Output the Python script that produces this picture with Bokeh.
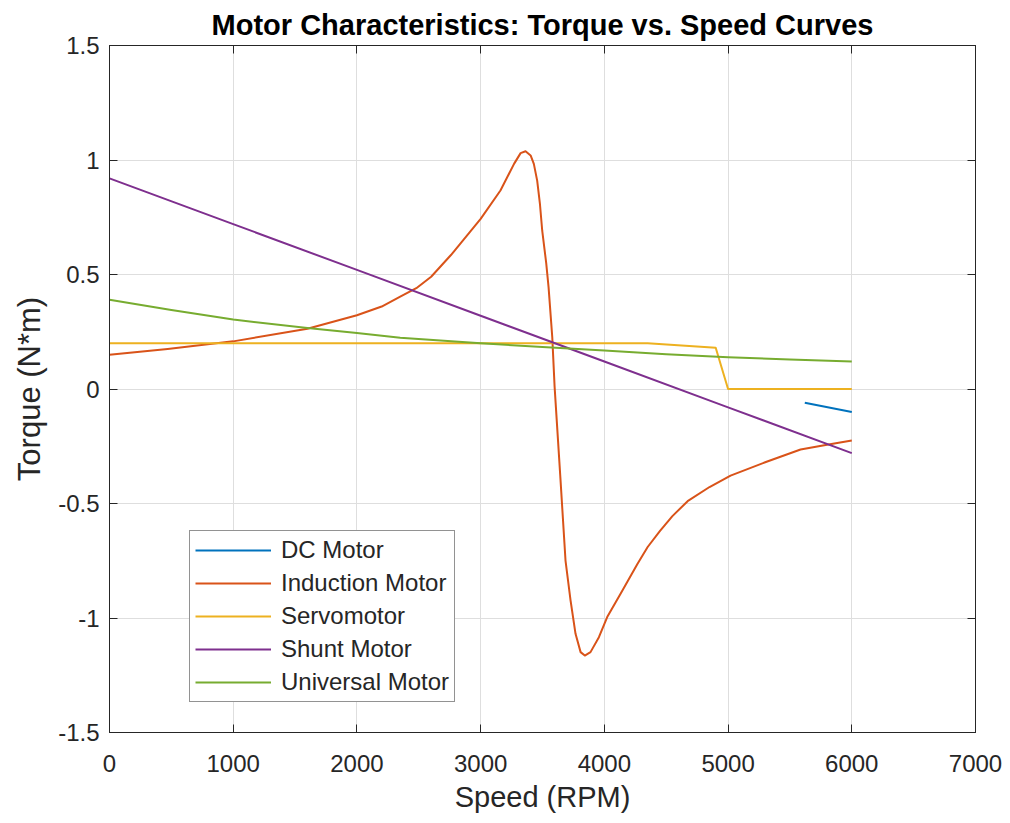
from bokeh.plotting import figure
from bokeh.models import Range1d, FixedTicker, LinearAxis, Legend, LegendItem
from bokeh.embed import file_html
from bokeh.resources import INLINE

# ---- data ----
dc_speed = [5620, 6000]
dc_torque = [-0.06, -0.10]

ind_speed = [0, 470, 1000, 1600, 2000, 2200, 2350, 2480, 2600, 2760, 3000, 3160, 3270, 3323, 3363,
             3404, 3430, 3457, 3479, 3498, 3530, 3549, 3579, 3598, 3646, 3686, 3727,
             3767, 3808, 3842, 3888, 3956, 4023, 4131, 4266, 4350, 4450, 4550, 4673, 4850, 5020,
             5300, 5586, 5800, 6000]
ind_torque = [0.15, 0.175, 0.208, 0.263, 0.322, 0.36, 0.403, 0.44, 0.49, 0.585, 0.743, 0.867, 0.983, 1.03, 1.038,
              1.02, 0.983, 0.91, 0.81, 0.69, 0.55, 0.445, 0.226, 0.008, -0.40, -0.749, -0.924,
              -1.069, -1.149, -1.164, -1.149, -1.084, -0.996, -0.894, -0.765, -0.69, -0.62, -0.555, -0.49, -0.428, -0.378,
              -0.32, -0.264, -0.243, -0.225]

servo_speed = [0, 4350, 4900, 5000, 6000]
servo_torque = [0.20, 0.20, 0.18, 0.0, 0.0]

shunt_speed = [0, 1000, 2000, 3000, 4000, 5000, 6000]
shunt_torque = [0.92, 0.72, 0.52, 0.32, 0.12, -0.08, -0.28]

univ_speed = [0, 500, 1000, 1600, 2000, 2350, 3000, 3500, 4000, 4500, 5000, 5500, 6000]
univ_torque = [0.39, 0.345, 0.303, 0.266, 0.245, 0.224, 0.20, 0.183, 0.168, 0.152, 0.139, 0.129, 0.12]

x_ticks = [0, 1000, 2000, 3000, 4000, 5000, 6000, 7000]
y_ticks = [-1.5, -1, -0.5, 0, 0.5, 1, 1.5]
y_tick_labels = ["-1.5", "-1", "-0.5", "0", "0.5", "1", "1.5"]

names = ["DC Motor", "Induction Motor", "Servomotor", "Shunt Motor", "Universal Motor"]
colors = ["#0072BD", "#D95319", "#EDB120", "#7E2F8E", "#77AC30"]

FONT = "Liberation Sans"
TXT = "#262626"

p = figure(frame_width=866, frame_height=687,
           x_range=Range1d(0, 7000), y_range=Range1d(-1.5, 1.5),
           output_backend="svg", toolbar_location=None,
           min_border_left=109, min_border_right=27, min_border_top=45, min_border_bottom=80,
           title="Motor Characteristics: Torque vs. Speed Curves")

p.title.text_font = FONT
p.title.text_font_size = "29px"
p.title.text_font_style = "bold"
p.title.align = "center"
p.title.text_color = "black"
p.title.standoff = 10

p.background_fill_color = "white"
p.border_fill_color = "white"
p.outline_line_color = TXT
p.outline_line_width = 1

for ax in (p.xaxis[0], p.yaxis[0]):
    ax.major_label_text_font = FONT
    ax.major_label_text_font_size = "24px"
    ax.major_label_text_color = TXT
    ax.axis_label_text_font = FONT
    ax.axis_label_text_font_style = "normal"
    ax.axis_label_text_color = TXT
    ax.axis_line_color = TXT
    ax.major_tick_line_color = TXT
    ax.major_tick_in = 8
    ax.major_tick_out = 0
    ax.minor_tick_line_color = None

p.xaxis[0].ticker = FixedTicker(ticks=x_ticks)
p.yaxis[0].ticker = FixedTicker(ticks=y_ticks)
p.yaxis[0].major_label_overrides = {t: l for t, l in zip(y_ticks, y_tick_labels)}
p.xaxis[0].axis_label = "Speed (RPM)"
p.yaxis[0].axis_label = "Torque (N*m)"
p.xaxis[0].axis_label_text_font_size = "29px"
p.yaxis[0].axis_label_text_font_size = "31px"
p.xaxis[0].major_label_standoff = 22
p.xaxis[0].axis_label_standoff = 6
p.yaxis[0].major_label_standoff = 10
p.yaxis[0].axis_label_standoff = 8

# box-style ticks on top and right (labels blank)
top = LinearAxis(ticker=FixedTicker(ticks=x_ticks),
                 major_label_overrides={t: "" for t in x_ticks},
                 major_tick_in=8, major_tick_out=0, minor_tick_line_color=None,
                 axis_line_color=TXT, major_tick_line_color=TXT, major_label_standoff=0)
right = LinearAxis(ticker=FixedTicker(ticks=y_ticks),
                   major_label_overrides={t: "" for t in y_ticks},
                   major_tick_in=8, major_tick_out=0, minor_tick_line_color=None,
                   axis_line_color=TXT, major_tick_line_color=TXT, major_label_standoff=0)
p.add_layout(top, "above")
p.add_layout(right, "right")

p.xgrid.ticker = FixedTicker(ticks=x_ticks)
p.ygrid.ticker = FixedTicker(ticks=y_ticks)
p.grid.grid_line_color = "#dedede"
p.grid.grid_line_width = 1

series = [(dc_speed, dc_torque), (ind_speed, ind_torque), (servo_speed, servo_torque),
          (shunt_speed, shunt_torque), (univ_speed, univ_torque)]
items = []
for (xs, ys), name, c in zip(series, names, colors):
    r = p.line(xs, ys, line_color=c, line_width=2, line_join="round")
    items.append(LegendItem(label=name, renderers=[r]))

legend = Legend(items=items, location=(80, 30))
legend.label_text_font = FONT
legend.label_text_font_size = "24px"
legend.label_text_color = TXT
legend.glyph_width = 76
legend.glyph_height = 26
legend.label_height = 26
legend.label_standoff = 10
legend.spacing = 5
legend.padding = 5
legend.margin = 0
legend.border_line_color = TXT
legend.border_line_width = 1
legend.background_fill_color = "white"
legend.background_fill_alpha = 1
p.add_layout(legend, "center")

open("out.html", "w").write(file_html(p, INLINE))
